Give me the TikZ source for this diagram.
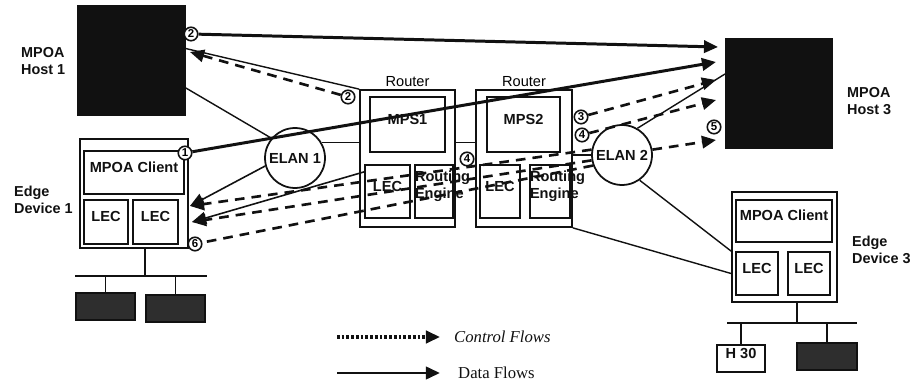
\documentclass[tikz,border=0pt]{standalone}
\usepackage{fontspec}
\setmainfont{Liberation Serif}
\setsansfont{Liberation Sans}
\usetikzlibrary{arrows.meta,fit,calc}
\definecolor{Ink}{HTML}{111111}

\tikzset{
  hostbox/.style={fill=Ink,draw=Ink,inner sep=0pt},
  pcbox/.style={fill=Ink!88,draw=Ink,line width=0.8pt,inner sep=0pt},
  devbox/.style={draw=Ink,line width=1pt,inner sep=0pt,align=center,text=Ink,
    font=\sffamily\bfseries\fontsize{8.3}{9.3}\selectfont},
  elan/.style={circle,draw=Ink,line width=1pt,minimum size=1.2cm,inner sep=0pt,text=Ink,
    font=\sffamily\bfseries\fontsize{8.3}{9.3}\selectfont},
  numc/.style={circle,draw=Ink,line width=0.9pt,fill=white,minimum size=0.27cm,inner sep=0pt,
    font=\sffamily\bfseries\fontsize{6.5}{7}\selectfont},
  side/.style={anchor=west,align=left,text=Ink,font=\sffamily\bfseries\fontsize{8.2}{9.8}\selectfont},
  legtext/.style={anchor=west,text=Ink,font=\fontsize{9.5}{11}\selectfont},
  link/.style={Ink,line width=0.8pt},
  dataflow/.style={Ink,line width=1.7pt,-{Triangle[length=8pt,width=7pt]}},
  thinflow/.style={Ink,line width=0.9pt,-{Triangle[length=8pt,width=7pt]}},
  ctrlflow/.style={Ink,line width=1.5pt,dash pattern=on 5.5pt off 4pt,-{Triangle[length=8pt,width=7pt]}},
}

\begin{document}
\begin{tikzpicture}[x=0.02cm,y=-0.02cm]
\useasboundingbox (0,0) rectangle (913,388);

% hosts
\node[hostbox,fit={(77,5) (185,115)}] (host1) {};
\node[side] (host1lab) at (15,61) {MPOA\\Host 1};
\node[hostbox,fit={(725,38) (832,148)}] (host3) {};
\node[side] (host3lab) at (841,101) {MPOA\\Host 3};

% edge device 1
\node[devbox,fit={(80,139) (188,248)}] (ed1) {};
\node[devbox,fit={(84,151) (184,194)}] (ed1mc) {MPOA Client};
\node[devbox,fit={(84,200) (128,244)}] (ed1l1) {LEC};
\node[devbox,fit={(133,200) (178,244)}] (ed1l2) {LEC};
\node[side] (ed1lab) at (8,200) {Edge\\Device 1};
\coordinate (bus1w) at (75,276);
\coordinate (bus1e) at (207,276);
\coordinate (bus1t) at (145,276);
\node[pcbox,fit={(76,293) (135,320)}] (pc1a) {};
\node[pcbox,fit={(146,295) (205,322)}] (pc1b) {};
\draw[link] (bus1w) -- (bus1e);
\draw[link] (bus1t |- ed1.south) -- (bus1t);
\draw[link] (pc1a.north |- bus1t) -- (pc1a.north);
\draw[link] (pc1b.north |- bus1t) -- (pc1b.north);

% ELANs
\node[elan] (elan1) at (295,158) {ELAN 1};
\node[elan] (elan2) at (622,155) {ELAN 2};

% routers
\node[devbox,fit={(360,90) (455,227)},
  label={[inner sep=1pt,font=\sffamily\fontsize{8.3}{9}\selectfont]above:Router}] (router1) {};
\node[devbox,fit={(370,97) (445,152)}] (mps1) {MPS1};
\node[devbox,fit={(365,165) (410,218)}] (r1lec) {LEC};
\node[devbox,fit={(415,165) (453,218)}] (r1eng) {Routing\\Engine};
\node[devbox,fit={(476,90) (572,227)},
  label={[inner sep=1pt,font=\sffamily\fontsize{8.3}{9}\selectfont]above:Router}] (router2) {};
\node[devbox,fit={(487,97) (560,152)}] (mps2) {MPS2};
\node[devbox,fit={(480,165) (520,218)}] (r2lec) {LEC};
\node[devbox,fit={(530,165) (570,218)}] (r2eng) {Routing\\Engine};

% edge device 3
\node[devbox,fit={(732,192) (837,302)}] (ed3) {};
\node[devbox,fit={(736,200) (832,242)}] (ed3mc) {MPOA Client};
\node[devbox,fit={(736,252) (778,295)}] (ed3l1) {LEC};
\node[devbox,fit={(788,252) (830,295)}] (ed3l2) {LEC};
\node[side] (ed3lab) at (846,250) {Edge\\Device 3};
\coordinate (bus3w) at (727,323);
\coordinate (bus3e) at (857,323);
\coordinate (bus3t) at (797,323);
\node[devbox,line width=0.8pt,fit={(717,345) (765,372)}] (h30) {H 30};
\node[pcbox,fit={(797,343) (857,370)}] (pc3) {};
\draw[link] (bus3w) -- (bus3e);
\draw[link] (bus3t |- ed3.south) -- (bus3t);
\draw[link] (h30.north |- bus3t) -- (h30.north);
\draw[link] (pc3.north |- bus3t) -- (pc3.north);

% network links
\draw[link] (host1.-27) -- (elan1.140);
\draw[link] (host1.12) -- (router1.north west);
\draw[link] (elan1.30) -- (elan1.30 -| router1.west);
\draw[link] (router1.east) ++(0,-16) coordinate (r12) -- (r12 -| router2.west);
\draw[link] (elan2.west) -- (elan2.west -| router2.east);
\draw[link] (elan2.-55) -- (ed3.west |- ed3l1.north);
\draw[link] (router2.south east) -- (ed3.west |- ed3l1.center);
\coordinate (h3f) at (725,74);
\draw[link] (elan2.60) -- (h3f);

% arrow ends
\coordinate (h1a) at (190,52);
\coordinate (h3a) at (718,47);
\coordinate (h3b) at (716,62);
\coordinate (h3c) at (716,80);
\coordinate (h3d) at (716,100);
\coordinate (h3e) at (716,140);
\coordinate (e1a) at (190,206);
\coordinate (e1b) at (192,222);

% flow labels
\node[numc] (n2a) at (191,34) {2};
\node[numc] (n2b) at (348,97) {2};
\node[numc] (n1) at (185,153) {1};
\node[numc] (n3) at (581,117) {3};
\node[numc] (n4a) at (582,135) {4};
\node[numc] (n4b) at (467,159) {4};
\node[numc] (n5) at (714,127) {5};
\node[numc] (n6) at (195,244) {6};

% data flows
\draw[dataflow] (n2a) -- (h3a);
\draw[dataflow] (n1) -- (h3b);
\draw[thinflow] (elan1.195) -- (e1a);
\draw[thinflow] (r1lec.140) -- (e1b);

% control flows
\draw[ctrlflow] (n2b) -- (h1a);
\draw[ctrlflow] (n3) -- (h3c);
\draw[ctrlflow] (n4a) -- (h3d);
\draw[ctrlflow] (elan2.10) -- (h3e);
\draw[ctrlflow] (elan2.170) -- (e1a);
\draw[ctrlflow] (elan2.190) -- (e1b);
\draw[ctrlflow,-] (elan2.200) -- (n6);

% legend
\coordinate (leg1a) at (337,337);
\coordinate (leg1b) at (440,337);
\coordinate (leg2a) at (337,373);
\coordinate (leg2b) at (440,373);
\draw[Ink,line width=1.8pt,dash pattern=on 1.5pt off 1.2pt,-{Triangle[length=8pt,width=7pt]}] (leg1a) -- (leg1b);
\draw[dataflow] (leg2a) -- (leg2b);
\node[legtext,font=\itshape\fontsize{9.5}{11}\selectfont] (legctrl) at (448,337) {Control Flows};
\node[legtext] (legdata) at (452,373) {Data Flows};
\end{tikzpicture}
\end{document}
